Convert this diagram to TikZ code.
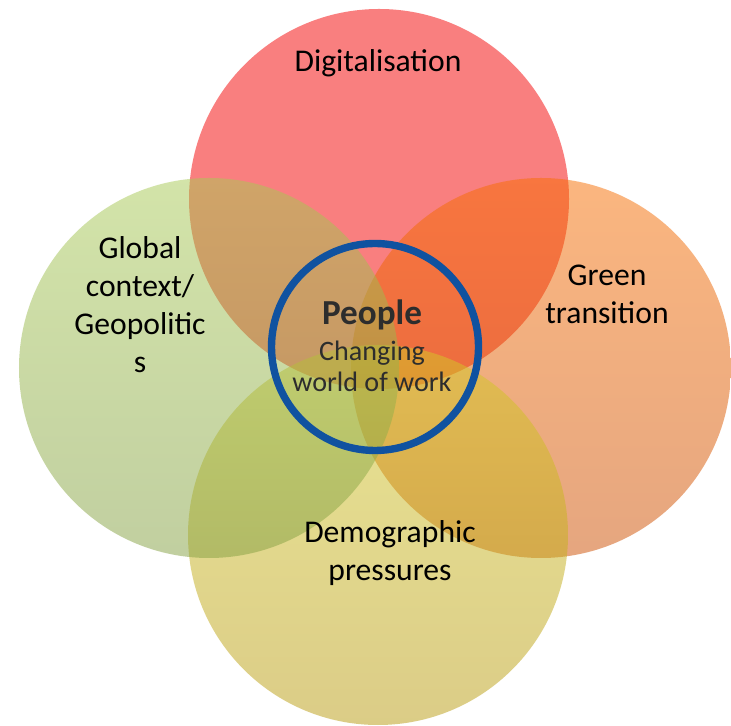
\documentclass[tikz,border=0pt]{standalone}
\usepackage{fontspec}
\setmainfont{Carlito}
\usepackage{tikz}
\usetikzlibrary{positioning}
\definecolor{digitalColor}{RGB}{245, 0, 0}
\definecolor{geoTopColor}{RGB}{168, 202, 84}
\definecolor{geoBottomColor}{RGB}{132, 160, 66}
\definecolor{greenTopColor}{RGB}{248, 110, 0}
\definecolor{greenBottomColor}{RGB}{205, 78, 0}
\definecolor{demoTopColor}{RGB}{212, 202, 40}
\definecolor{demoBottomColor}{RGB}{185, 155, 15}
\definecolor{peopleColor}{RGB}{16, 82, 160}
\definecolor{peopleText}{RGB}{45, 45, 45}

\begin{document}
\begin{tikzpicture}[
    bubble/.style={circle, minimum size=7.6cm, inner sep=0pt, fill opacity=0.5},
    topic/.style={align=center, inner sep=0pt, font=\fontsize{18}{21.6}\selectfont},
    ring/.style={circle, draw=peopleColor, line width=4.2pt, minimum size=4.14cm, inner sep=0pt}
]
    \useasboundingbox[fill=white] (0,0) rectangle (14.62,14.5);

    % Circles
    \node[bubble, fill=digitalColor] (digital) at (7.58,10.52) {};
    \node[bubble, top color=greenTopColor, bottom color=greenBottomColor] (green) at (10.82,7.14) {};
    \node[bubble, top color=demoTopColor, bottom color=demoBottomColor] (demo) at (7.56,3.80) {};
    \node[bubble, top color=geoTopColor, bottom color=geoBottomColor] (geo) at (4.18,7.14) {};

    % Centre
    \node[ring] (people) at (7.5,7.56) {};

    % Texts
    \node[topic] (digitalText) at (7.56,13.24) {Digitalisation};
    \node[topic] (geoText) at (2.8,8.4) {Global\\context/\\Geopolitic\\s};
    \node[topic] (greenText) at (12.14,8.61) {Green\\transition};
    \node[topic] (demoText) at (7.8,3.43) {Demographic\\pressures};
    \node[topic, text=peopleText, font=\fontsize{20}{24}\selectfont\bfseries] (peopleText) at (7.44,8.2) {People};
    \node[topic, text=peopleText, font=\fontsize{16}{18}\selectfont, below=0.2cm of peopleText] (workText) {Changing\\world of work};

\end{tikzpicture}
\end{document}
